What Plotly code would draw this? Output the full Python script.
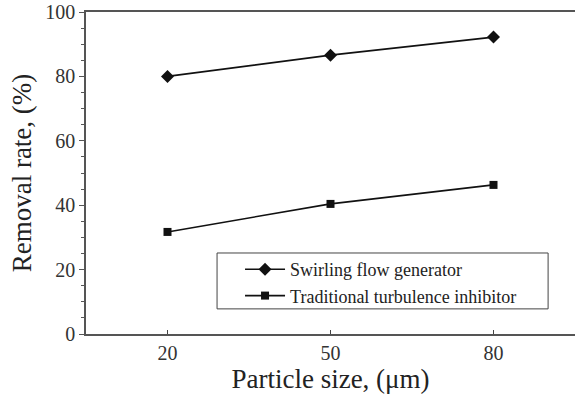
import plotly.graph_objects as go

particle_size = [20, 50, 80]
swirling = [80.0, 86.6, 92.2]
traditional = [31.7, 40.4, 46.3]
series_names = ["Swirling flow generator", "Traditional turbulence inhibitor"]

fig = go.Figure()
fig.add_trace(go.Scatter(x=particle_size, y=swirling, name=series_names[0], mode="lines+markers",
                         line=dict(color="#111", width=1.6),
                         marker=dict(symbol="diamond", size=10, color="#111")))
fig.add_trace(go.Scatter(x=particle_size, y=traditional, name=series_names[1], mode="lines+markers",
                         line=dict(color="#111", width=1.6),
                         marker=dict(symbol="square", size=8, color="#111")))

font = "Liberation Serif"
fig.add_shape(type="rect", xref="paper", yref="paper", x0=0.268, x1=0.945, y0=0.078, y1=0.2516,
              line=dict(color="#444", width=1), fillcolor="white", layer="below")
fig.update_layout(
    width=575, height=399,
    margin=dict(l=86, r=0, t=12, b=65),
    plot_bgcolor="white", paper_bgcolor="white",
    font=dict(family=font, color="#333"),
    showlegend=True,
    legend=dict(x=0.315, y=0.2578, xanchor="left", yanchor="top",
                borderwidth=0, bgcolor="rgba(0,0,0,0)",
                font=dict(family=font, size=18, color="#222"),
                itemwidth=40, tracegroupgap=0),
    xaxis=dict(range=[5, 95], tickvals=particle_size, ticks="inside", ticklen=4,
               showgrid=False, zeroline=False, showline=True, linecolor="#555", linewidth=1.5,
               mirror=True, tickfont=dict(size=20, family=font, color="#333"),
               title=dict(text="Particle size, (μm)", font=dict(size=27, family=font, color="#222"), standoff=4)),
    yaxis=dict(range=[0, 100], tickvals=[0, 20, 40, 60, 80, 100], ticks="outside", ticklen=5,
               tickcolor="#555", showgrid=False, zeroline=False, showline=True, linecolor="#555",
               linewidth=1.5, mirror=False,
               minor=dict(dtick=5, ticks="outside", ticklen=3, tickcolor="#555"),
               tickfont=dict(size=20, family=font, color="#333"),
               title=dict(text="Removal rate, (%)", font=dict(size=27, family=font, color="#222"), standoff=6)),
)
fig.write_html("out.html")
